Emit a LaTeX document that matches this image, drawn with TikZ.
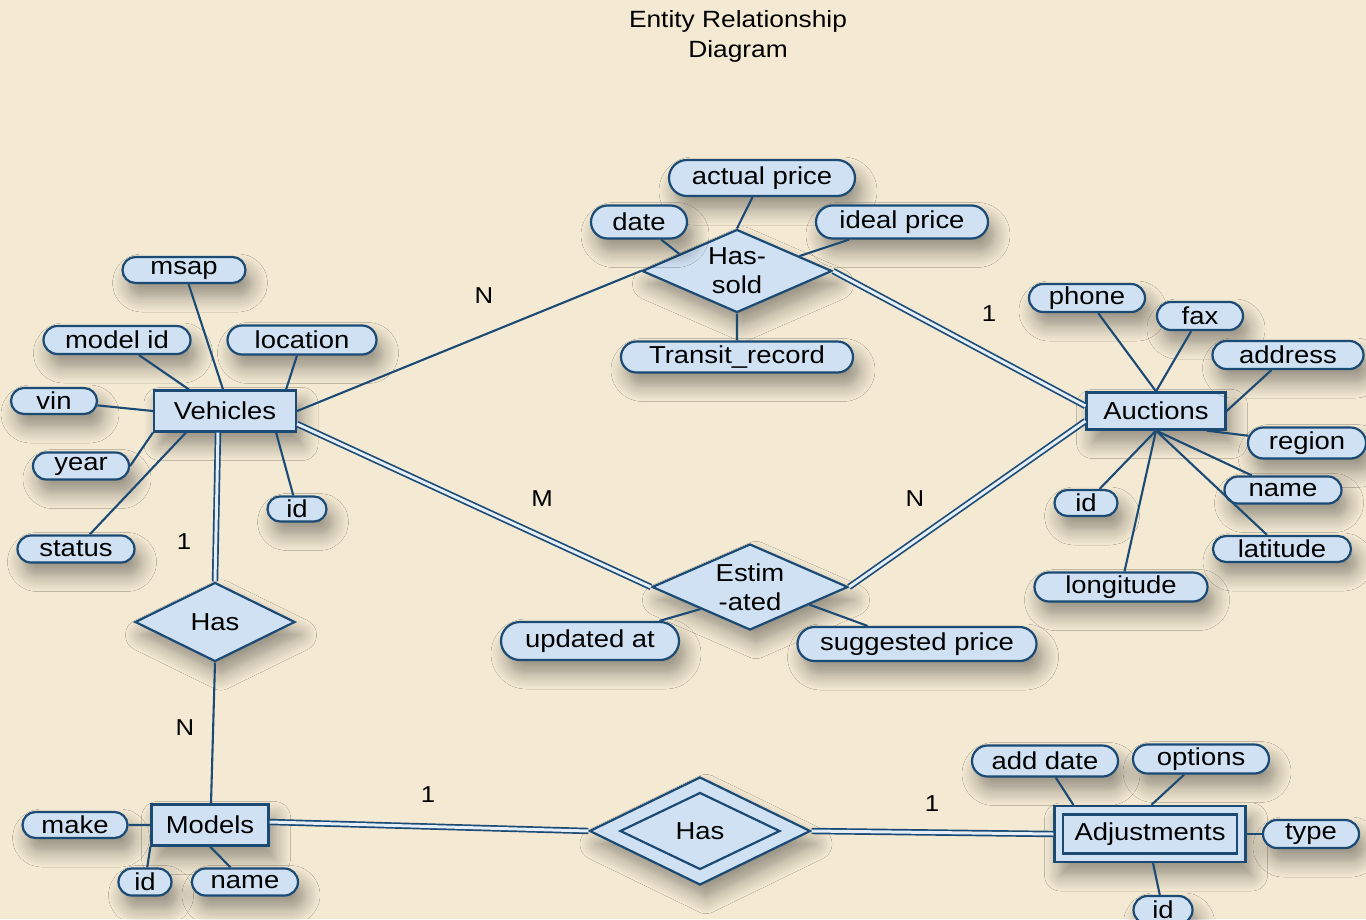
\documentclass[tikz,border=0pt]{standalone}
\usepackage{fontspec}
\setmainfont{Liberation Sans}[FakeStretch=1.12]
\usetikzlibrary{shapes.geometric,shapes.misc,calc,shadows.blur}
\definecolor{bgc}{HTML}{F4EAD4}
\definecolor{lc}{HTML}{1B4A75}
\definecolor{fc}{HTML}{CFE1F3}
\definecolor{dc}{HTML}{E4EEF8}
\begin{document}
\begin{tikzpicture}[x=1pt,y=-1pt,
 every node/.style={font=\fontsize{24.5}{29}\selectfont, text=black, inner sep=0pt},
 shad/.style={blur shadow={shadow xshift=6pt,shadow yshift=-13pt,shadow blur radius=16pt,shadow blur steps=8,shadow opacity=40}},
 ent/.style={draw=lc, fill=fc, line width=2.2pt, rectangle, shad},
 attr/.style={draw=lc, fill=fc, line width=2.2pt, rounded rectangle, shad},
 rel/.style={draw=lc, fill=fc, line width=2.2pt, diamond, aspect=2.3, shad},
 con/.style={draw=lc, line width=2.1pt},
 dcon/.style={draw=lc, line width=1.7pt, double=dc, double distance=3pt},
 card/.style={font=\fontsize{23}{24}\selectfont}
]
\fill[bgc] (0,0) rectangle (1366,919);
\useasboundingbox (0,0) rectangle (1366,919);

% title
\node[align=center, font=\fontsize{23.5}{30}\selectfont] (title) at (738,36) {Entity Relationship\\Diagram};

% entities
\node[ent, minimum width=142pt, minimum height=41pt] (veh) at (225,411) {Vehicles};
\node[ent, minimum width=139pt, minimum height=37pt] (auc) at (1156,411) {Auctions};
\node[ent, minimum width=117pt, minimum height=41pt] (mod) at (210,825) {Models};
\node[ent, minimum width=191pt, minimum height=56pt] (adj) at (1150,834) {};
\node[draw=lc, line width=2.2pt, minimum width=174pt, minimum height=39pt] (adjin) at (1150,834) {Adjustments};

% relationships
\node[rel, minimum width=190pt, minimum height=83pt, align=center] (hs) at (737,271) {Has-\\sold};
\node[rel, minimum width=196pt, minimum height=86pt, align=center] (est) at (750,587) {Estim\\-ated};
\node[rel, minimum width=160pt, minimum height=79pt] (has) at (215,622) {Has};
\node[rel, minimum width=221pt, minimum height=108pt] (hasw) at (700,831) {};
\node[draw=lc, line width=2.2pt, diamond, aspect=2.1, minimum width=160pt, minimum height=77pt] (haswin) at (700,831) {Has};

% attributes
\node[attr, minimum width=186pt, minimum height=36pt] (ap) at (762,178) {actual price};
\node[attr, minimum width=96pt, minimum height=33pt] (dt) at (639,222) {date};
\node[attr, minimum width=172pt, minimum height=33pt] (ip) at (902,222) {ideal price};
\node[attr, minimum width=232pt, minimum height=31pt] (tr) at (737,357) {Transit\_record};
\node[attr, minimum width=123pt, minimum height=26pt] (msap) at (184,270) {msap};
\node[attr, minimum width=147pt, minimum height=28pt] (mid) at (117,340) {model id};
\node[attr, minimum width=149pt, minimum height=29pt] (loc) at (302,340) {location};
\node[attr, minimum width=86pt, minimum height=26pt] (vin) at (54,401) {vin};
\node[attr, minimum width=96pt, minimum height=27pt] (yr) at (81,466) {year};
\node[attr, minimum width=117pt, minimum height=27pt] (st) at (76,549) {status};
\node[attr, minimum width=59pt, minimum height=25pt] (vid) at (297,509) {id};
\node[attr, minimum width=116pt, minimum height=28pt] (ph) at (1087,298) {phone};
\node[attr, minimum width=86pt, minimum height=28pt] (fax) at (1200,316) {fax};
\node[attr, minimum width=151pt, minimum height=28pt] (addr) at (1288,355) {address};
\node[attr, minimum width=118pt, minimum height=31pt] (reg) at (1307,443) {region};
\node[attr, minimum width=117pt, minimum height=27pt] (anm) at (1283,490) {name};
\node[attr, minimum width=63pt, minimum height=26pt] (aid) at (1086,503) {id};
\node[attr, minimum width=138pt, minimum height=26pt] (lat) at (1282,549) {latitude};
\node[attr, minimum width=173pt, minimum height=29pt] (lon) at (1121,587) {longitude};
\node[attr, minimum width=178pt, minimum height=38pt] (upd) at (590,641) {updated at};
\node[attr, minimum width=239pt, minimum height=34pt] (sug) at (917,644) {suggested price};
\node[attr, minimum width=146pt, minimum height=31pt] (add) at (1045,761) {add date};
\node[attr, minimum width=136pt, minimum height=29pt] (opt) at (1201,759) {options};
\node[attr, minimum width=96pt, minimum height=28pt] (typ) at (1311,834) {type};
\node[attr, minimum width=59pt, minimum height=28pt] (jid) at (1163,910) {id};
\node[attr, minimum width=105pt, minimum height=26pt] (mk) at (75,825) {make};
\node[attr, minimum width=53pt, minimum height=27pt] (mdid) at (145,882) {id};
\node[attr, minimum width=106pt, minimum height=27pt] (mnm) at (245,882) {name};

% cardinalities
\node[card] (c1) at (484,296) {N};
\node[card] (c2) at (989,314) {1};
\node[card] (c3) at (542,499) {M};
\node[card] (c4) at (915,499) {N};
\node[card] (c5) at (184,542) {1};
\node[card] (c6) at (185,728) {N};
\node[card] (c7) at (428,795) {1};
\node[card] (c8) at (932,804) {1};

% relationship connectors
\draw[con] (veh.east) -- (hs.west);
\draw[dcon] (hs.east) -- ($(auc.west)+(0,-5)$);
\draw[dcon] ($(veh.east)+(0,13)$) -- (est.west);
\draw[dcon] (est.east) -- ($(auc.west)+(0,10)$);
\draw[dcon] ($(veh.south)+(-7,0)$) -- (has.north);
\draw[con] (has.south) -- ($(mod.north)+(1,0)$);
\draw[dcon] ($(mod.east)+(0,-3)$) -- (hasw.west);
\draw[dcon] (hasw.east) -- (adj.west);

% attribute connectors
\draw[con] (ap) -- (hs.north);
\draw[con] (dt) -- ($(hs.north)!0.6!(hs.west)$);
\draw[con] (ip) -- ($(hs.north)!0.65!(hs.east)$);
\draw[con] (tr) -- (hs.south);
\draw[con] (upd) -- ($(est.south)!0.5!(est.west)$);
\draw[con] (sug) -- ($(est.south)!0.6!(est.east)$);

\draw[con] (msap) -- ($(veh.north)+(-2,0)$);
\draw[con] (mid) -- ($(veh.north west)+(36,0)$);
\draw[con] (loc) -- ($(veh.north east)+(-11,0)$);
\draw[con] (vin) -- (veh.west);
\draw[con] (yr.east) -- (veh.south west);
\draw[con] (st) -- ($(veh.south west)+(33,0)$);
\draw[con] (vid) -- ($(veh.south east)+(-21,0)$);

\draw[con] (ph) -- (auc.north);
\draw[con] (fax) -- (auc.north);
\draw[con] (addr) -- (auc.east);
\draw[con] (reg) -- ($(auc.south east)+(-20,0)$);
\draw[con] (anm) -- (auc.south);
\draw[con] (lat) -- (auc.south);
\draw[con] (lon) -- (auc.south);
\draw[con] (aid) -- (auc.south);

\draw[con] (mk) -- (mod.west);
\draw[con] (mdid) -- (mod.south west);
\draw[con] (mnm) -- (mod.south);

\draw[con] (add) -- ($(adj.north west)+(20,0)$);
\draw[con] (opt) -- ($(adj.north west)+(98,0)$);
\draw[con] (typ) -- (adj.east);
\draw[con] (jid) -- ($(adj.south)+(3,0)$);
\end{tikzpicture}
\end{document}
